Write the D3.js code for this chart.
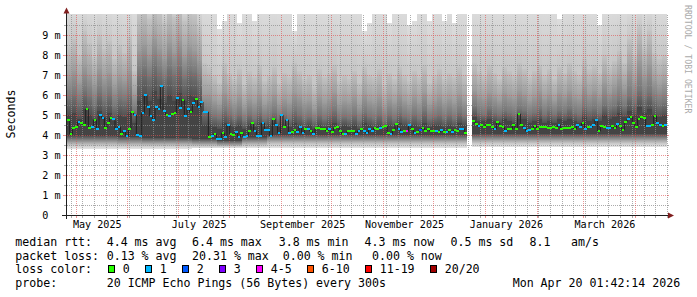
<!DOCTYPE html>
<html>
<head>
<meta charset="utf-8">
<script src="https://cdn.jsdelivr.net/npm/d3@7"></script>
<style>
  body { margin: 0; background: #fff; }
  svg text { font-family: "DejaVu Sans Mono", monospace; white-space: pre; }
</style>
</head>
<body>
<svg id="chart" width="697" height="297"></svg>
<script>
// time span of the graph
const t0 = new Date(Date.UTC(2025, 3, 25, 19, 0));
const t1 = new Date(Date.UTC(2026, 3, 20, 1, 42, 14));

// median rtt (ms), 225 steps, null = no data
const median = [
  4.75,4.05,4.35,4.4,4.65,4.6,4.5,5.3,4.35,4.4,
  4.75,4.3,5.0,4.85,4.35,4.6,4.85,4.8,4.3,4.4,
  4.05,4.2,3.95,4.3,5.15,5.0,4.0,3.95,5.1,6.0,
  5.4,4.95,4.75,5.4,5.3,6.45,5.2,5.0,4.95,5.05,
  5.1,5.85,5.35,5.75,4.95,5.3,5.15,5.6,5.8,5.4,
  5.65,5.15,5.15,3.9,3.95,4.05,3.8,
  3.8,4.1,3.9,4.5,4.05,4.0,4.15,3.9,4.1,3.9,
  3.95,4.2,4.6,4.2,3.95,3.95,4.6,4.25,4.25,3.95,
  4.8,4.5,4.1,5.0,4.4,4.75,4.1,4.15,4.25,4.15,
  4.4,4.1,4.3,4.3,4.2,4.05,4.35,4.35,4.3,4.3,
  4.2,4.3,4.15,4.35,4.4,4.2,4.05,4.05,4.2,4.2,
  4.2,4.05,4.2,4.3,4.2,
  4.1,4.3,4.2,4.35,4.3,4.35,4.4,4.45,4.1,4.05,
  4.25,4.55,4.3,4.15,4.2,4.2,4.5,4.3,4.1,4.15,
  4.25,4.35,4.2,4.3,4.2,4.2,4.2,4.15,4.25,4.15,
  4.15,4.25,4.15,4.25,4.2,4.3,4.3,4.1,
  null,null,
  4.7,4.55,4.45,4.5,4.4,4.5,4.5,4.4,4.3,4.65,
  4.45,4.4,4.2,4.3,4.3,4.5,
  4.3,5.05,4.5,4.35,4.2,4.25,4.3,4.45,4.3,4.4,
  4.4,4.4,4.35,4.35,4.4,4.35,4.5,4.3,4.35,4.35,
  4.35,4.4,4.3,4.5,4.4,4.6,4.3,4.4,4.4,4.5,
  4.75,4.2,4.45,4.4,4.35,4.35,4.45,4.35,4.55,4.45,
  4.25,4.65,4.8,4.9,4.6,4.4,4.8,4.9,4.85,4.45,
  4.45,4.5,4.95,4.6,4.5,4.45,4.5
];

// loss class per step (index into lossColors)
const lossCls = [
  0,0,0,0,1,0,0,0,0,1,
  0,1,1,1,0,0,0,1,1,1,
  0,1,1,0,0,1,1,1,1,1,
  1,1,1,1,1,1,1,0,1,0,
  0,1,1,0,1,1,0,1,0,1,
  1,1,1,0,1,0,1,
  1,0,1,1,0,0,1,1,0,1,
  1,0,0,1,1,1,1,1,1,1,
  0,1,1,1,0,1,1,0,0,1,
  1,1,0,1,0,1,0,0,0,0,
  0,1,0,0,0,0,0,1,0,0,
  0,1,1,0,1,
  1,1,1,0,0,1,0,0,0,1,
  0,0,1,1,0,4,1,0,1,0,
  2,0,0,0,0,0,1,0,1,0,
  1,0,1,0,0,1,1,0,
  0,0,
  0,0,1,0,0,0,0,0,1,0,
  0,0,1,0,0,0,
  0,0,0,1,1,1,0,0,0,0,
  0,0,0,0,0,0,1,0,0,0,
  0,0,0,1,1,0,1,0,1,1,
  1,0,0,0,1,1,0,0,1,0,
  0,0,1,0,0,0,0,0,0,1,
  1,0,0,1,1,0,1
];

// smoke: upper ranks of the 20 sorted pings (ms), 120 steps (10.4 = above the top)
const r20 = [
  10.4,10.4,10.4,10.4,10.4,10.4,10.4,10.4,10.4,10.4,
  10.4,10.4,10.4,10.4,10.4,10.4,10.4,10.4,10.4,10.4,
  10.4,10.4,10.4,10.4,10.4,10.4,10.4,10.4,10.4,10.4,
  9.3,9.7,10.4,10.4,9.6,10.4,10.4,9.7,10.4,10.4,
  10.4,10.4,10.4,10.4,10.4,9.2,10.4,10.4,10.4,10.4,
  10.4,10.4,10.4,10.4,10.4,10.4,10.4,10.4,10.4,9.2,
  9.6,10.4,10.4,10.4,9.6,10.4,10.4,10.4,9.5,9.7,
  10.4,10.4,9.7,10.4,10.4,9.7,10.4,9.6,10.4,10.4,
  null,10.4,10.4,10.4,10.4,10.4,10.4,10.4,10.4,10.4,
  10.4,10.4,10.4,10.4,10.4,10.4,10.4,10.4,9.8,10.4,
  10.4,10.4,10.4,10.4,10.4,10.4,9.5,10.4,10.4,10.4,
  10.4,10.4,10.4,10.4,10.4,10.4,10.4,10.4,10.4,10.4
];
const r18 = [
  8.4,8.8,8.0,9.2,8.6,7.9,9.0,8.3,8.7,7.8,
  8.5,8.1,8.9,7.2,10.0,10.3,9.8,10.4,10.1,9.6,
  10.3,9.9,10.4,9.7,10.1,10.0,9.4,7.6,7.4,7.0,
  6.6,7.6,7.1,6.8,7.3,6.5,7.2,6.9,7.5,6.7,
  7.0,7.4,6.6,7.1,6.9,7.6,7.2,6.8,7.0,6.4,
  7.3,6.9,7.1,7.5,6.7,7.0,6.8,7.2,6.6,7.4,
  7.0,6.9,7.3,6.5,7.1,6.8,7.4,7.0,6.7,7.2,
  6.9,7.5,6.6,7.0,7.3,6.8,7.1,6.9,7.4,7.0,
  null,7.6,7.2,7.0,7.5,7.1,6.8,7.4,7.2,7.0,
  7.6,7.3,6.9,7.2,7.5,7.0,7.3,6.8,7.4,7.1,
  7.6,7.2,7.0,7.8,7.3,7.5,7.1,8.0,7.4,7.7,
  8.2,7.6,8.8,8.0,9.4,8.4,9.2,8.1,7.8,8.0
];
const r16 = [
  6.9,7.2,6.6,7.4,7.0,6.5,7.3,6.8,7.1,6.4,
  6.9,6.7,7.2,6.0,8.2,8.5,8.0,8.8,8.3,7.8,
  8.6,8.1,8.7,7.9,8.4,8.2,7.7,6.0,6.0,5.7,
  5.5,6.1,5.8,5.6,5.9,5.4,5.8,5.6,6.0,5.5,
  5.7,6.0,5.5,5.8,5.6,6.1,5.9,5.6,5.7,5.3,
  5.9,5.6,5.8,6.1,5.5,5.7,5.6,5.9,5.4,6.0,
  5.7,5.6,5.9,5.4,5.8,5.6,6.0,5.7,5.5,5.9,
  5.6,6.1,5.5,5.7,5.9,5.6,5.8,5.6,6.0,5.7,
  null,6.2,5.9,5.8,6.1,5.9,5.7,6.1,5.9,5.8,
  6.2,6.0,5.7,5.9,6.2,5.8,6.0,5.7,6.1,5.9,
  6.2,5.9,5.8,6.4,6.0,6.2,5.9,6.6,6.1,6.4,
  6.8,6.3,7.2,6.6,7.7,6.9,7.5,6.7,6.4,6.6
];
const r14 = [
  5.8,6.0,5.6,6.2,5.9,5.5,6.1,5.7,6.0,5.4,
  5.8,5.7,6.0,5.2,7.0,7.3,6.9,7.5,7.1,6.8,
  7.3,7.0,7.4,6.8,7.2,7.1,6.7,5.2,5.1,4.9,
  4.8,5.2,5.0,4.8,5.0,4.7,5.0,4.8,5.1,4.8,
  4.9,5.1,4.8,5.0,4.8,5.2,5.0,4.8,4.9,4.7,
  5.0,4.8,5.0,5.2,4.8,4.9,4.8,5.0,4.7,5.1,
  4.9,4.8,5.0,4.7,5.0,4.8,5.1,4.9,4.8,5.0,
  4.8,5.2,4.8,4.9,5.0,4.8,5.0,4.8,5.1,4.9,
  null,5.4,5.1,5.0,5.3,5.1,5.0,5.2,5.1,5.0,
  5.3,5.2,5.0,5.1,5.3,5.0,5.2,5.0,5.2,5.1,
  5.3,5.1,5.0,5.4,5.2,5.3,5.1,5.5,5.3,5.4,
  5.7,5.4,5.9,5.6,6.2,5.8,6.1,5.7,5.5,5.6
];
const r12 = [
  5.0,5.1,4.8,5.3,5.0,4.8,5.2,4.9,5.1,4.7,
  5.0,4.9,5.1,4.6,5.7,6.0,5.7,6.2,5.8,5.6,
  6.0,5.7,6.1,5.7,6.0,5.9,5.6,4.5,4.5,4.4,
  4.3,4.6,4.5,4.4,4.5,4.3,4.5,4.4,4.6,4.4,
  4.5,4.6,4.4,4.5,4.4,4.6,4.5,4.4,4.5,4.3,
  4.5,4.4,4.5,4.6,4.4,4.5,4.4,4.5,4.3,4.6,
  4.5,4.4,4.5,4.3,4.5,4.4,4.6,4.5,4.4,4.5,
  4.4,4.6,4.4,4.5,4.5,4.4,4.5,4.4,4.6,4.5,
  null,4.9,4.7,4.7,4.8,4.7,4.6,4.8,4.7,4.6,
  4.8,4.8,4.6,4.7,4.8,4.6,4.7,4.6,4.8,4.7,
  4.8,4.7,4.6,4.9,4.7,4.8,4.7,5.0,4.8,4.9,
  5.1,4.9,5.2,5.0,5.4,5.1,5.3,5.0,4.9,5.0
];

// smoke: lower ranks (ms), 24 steps
const r9 = [3.95,3.95,3.9,3.85,3.85,3.8,3.72,3.88,4.0,4.0,4.0,4.0,4.0,4.0,4.0,4.0,4.05,4.05,4.05,4.05,4.05,4.05,4.05,4.05];
const r7 = [3.8,3.8,3.76,3.72,3.72,3.68,3.62,3.76,3.86,3.86,3.86,3.86,3.86,3.86,3.86,3.86,3.9,3.9,3.9,3.9,3.9,3.9,3.9,3.9];
const r5 = [3.65,3.65,3.62,3.6,3.6,3.57,3.52,3.63,3.72,3.72,3.72,3.72,3.72,3.72,3.72,3.72,3.76,3.76,3.76,3.76,3.76,3.76,3.76,3.76];
const r3 = [3.5,3.5,3.48,3.47,3.47,3.46,3.44,3.5,3.57,3.57,3.57,3.57,3.57,3.57,3.57,3.57,3.6,3.6,3.6,3.6,3.6,3.6,3.6,3.6];
const r1 = [3.32,3.32,3.32,3.32,3.32,3.33,3.35,3.36,3.37,3.37,3.37,3.37,3.37,3.37,3.37,3.37,3.42,3.42,3.42,3.42,3.42,3.42,3.42,3.42];

const yTicks = [0, 1, 2, 3, 4, 5, 6, 7, 8, 9];
const lossColors = ['#26ff00', '#00b8ff', '#0059ff', '#7e00ff', '#ff00ff', '#ff5500', '#ff0000', '#a10000'];
const lossLabels = ['0', '1', '2', '3', '4-5', '6-10', '11-19', '20/20'];
const rttStats = ['median rtt:', '4.4 ms avg', '6.4 ms max', '3.8 ms min', '4.3 ms now', '0.5 ms sd', '8.1', 'am/s'];
const lossStats = ['packet loss:', '0.13 % avg', '20.31 % max', '0.00 % min', '0.00 % now'];
const probeText = ['probe:', '20 ICMP Echo Pings (56 Bytes) every 300s', 'Mon Apr 20 01:42:14 2026'];

// ---- layout
const svg = d3.select('#chart');
const x = d3.scaleUtc().domain([t0, t1]).range([67, 667]);
const y = d3.scaleLinear().domain([0, 10]).range([215, 15]);
const span = t1 - t0;
const binStart = (arr, i) => new Date(+t0 + i * span / arr.length);
const at = (arr, t) => arr[Math.min(arr.length - 1, Math.floor((t - t0) / span * arr.length))];

const gridMinor = 'rgba(143,143,143,0.75)';
const gridMajor = 'rgba(222,79,79,0.6)';

const defs = svg.append('defs');
defs.append('clipPath').attr('id', 'plot')
  .append('rect').attr('x', 67).attr('y', 14).attr('width', 600).attr('height', 201);

// smoke segments between neighbouring ranks, shaded like the smokeping grey ramp
const segments = [
  [r20, r18, '#dddddd', '#c6c6c6'],
  [r18, r16, '#c3c3c3', '#9c9c9c'],
  [r16, r14, '#9a9a9a', '#767676'],
  [r14, r12, '#747474', '#505050'],
  [r12, r9, '#444444', '#444444'],
  [r9, r7, '#505050', '#767676'],
  [r7, r5, '#787878', '#9c9c9c'],
  [r5, r3, '#9e9e9e', '#c3c3c3'],
  [r3, r1, '#c6c6c6', '#e2e2e2']
];
segments.forEach(([, , c0, c1], k) => {
  const lg = defs.append('linearGradient').attr('id', 'seg' + k)
    .attr('x1', 0).attr('x2', 0).attr('y1', 0).attr('y2', 1);
  lg.append('stop').attr('offset', 0).attr('stop-color', c0);
  lg.append('stop').attr('offset', 1).attr('stop-color', c1);
});

const smoke = svg.append('g').attr('clip-path', 'url(#plot)').attr('shape-rendering', 'crispEdges');
const nSmoke = r20.length;
const smokeBins = d3.range(nSmoke).map((i) => {
  const a = binStart(r20, i), b = binStart(r20, i + 1);
  return { a, b, mid: new Date((+a + +b) / 2), i };
}).filter((d) => r20[d.i] != null);
segments.forEach(([hiArr, loArr], k) => {
  const rows = smokeBins.map((d) => ({
    a: d.a, b: d.b,
    hi: hiArr.length === nSmoke ? hiArr[d.i] : at(hiArr, d.mid),
    lo: loArr.length === nSmoke ? loArr[d.i] : at(loArr, d.mid)
  })).filter((d) => d.hi > d.lo);
  smoke.append('g').selectAll('rect').data(rows).join('rect')
    .attr('x', (d) => x(d.a))
    .attr('width', (d) => x(d.b) - x(d.a))
    .attr('y', (d) => y(d.hi))
    .attr('height', (d) => y(d.lo) - y(d.hi))
    .attr('fill', `url(#seg${k})`);
});

// grid on top of the smoke
const grid = svg.append('g');
const hMinor = d3.range(0.5, 10, 1);
grid.selectAll('line.hmin').data(hMinor).join('line').attr('class', 'hmin')
  .attr('x1', 67).attr('x2', 667).attr('y1', (d) => y(d) + 0.5).attr('y2', (d) => y(d) + 0.5)
  .attr('stroke', gridMinor).attr('stroke-dasharray', '1,1');
const weeks = d3.utcMonday.range(t0, t1).filter((d) => d.getUTCDate() !== 1);
grid.selectAll('line.vmin').data(weeks).join('line').attr('class', 'vmin')
  .attr('x1', (d) => Math.round(x(d)) + 0.5).attr('x2', (d) => Math.round(x(d)) + 0.5)
  .attr('y1', 15).attr('y2', 215)
  .attr('stroke', gridMinor).attr('stroke-dasharray', '1,1');
grid.selectAll('line.hmaj').data(yTicks.slice(1)).join('line').attr('class', 'hmaj')
  .attr('x1', 67).attr('x2', 667).attr('y1', (d) => y(d) + 0.5).attr('y2', (d) => y(d) + 0.5)
  .attr('stroke', gridMajor).attr('stroke-dasharray', '1,1');
const months = d3.utcMonth.range(t0, t1);
grid.selectAll('line.vmaj').data(months).join('line').attr('class', 'vmaj')
  .attr('x1', (d) => Math.round(x(d)) + 0.5).attr('x2', (d) => Math.round(x(d)) + 0.5)
  .attr('y1', 15).attr('y2', 215)
  .attr('stroke', gridMajor).attr('stroke-dasharray', '1,1');

// ticks outside the plot
const ticks = svg.append('g').attr('shape-rendering', 'crispEdges');
hMinor.forEach((v) => {
  ticks.append('line').attr('x1', 64).attr('x2', 66).attr('y1', y(v) + 0.5).attr('y2', y(v) + 0.5).attr('stroke', gridMinor);
  ticks.append('line').attr('x1', 667).attr('x2', 669).attr('y1', y(v) + 0.5).attr('y2', y(v) + 0.5).attr('stroke', gridMinor);
});
yTicks.forEach((v) => {
  ticks.append('line').attr('x1', 63).attr('x2', 66).attr('y1', y(v) + 0.5).attr('y2', y(v) + 0.5).attr('stroke', gridMajor);
  ticks.append('line').attr('x1', 667).attr('x2', 669).attr('y1', y(v) + 0.5).attr('y2', y(v) + 0.5).attr('stroke', gridMajor);
});
weeks.forEach((d) => {
  const px = Math.round(x(d)) + 0.5;
  ticks.append('line').attr('x1', px).attr('x2', px).attr('y1', 215).attr('y2', 218).attr('stroke', gridMinor);
});
months.forEach((d) => {
  const px = Math.round(x(d)) + 0.5;
  ticks.append('line').attr('x1', px).attr('x2', px).attr('y1', 215).attr('y2', 218).attr('stroke', gridMajor);
});

// median: dark step line and loss coloured boxes
const medRows = median.map((v, i) => ({ v, c: lossCls[i], a: binStart(median, i), b: binStart(median, i + 1) }));
const stepLine = d3.line()
  .defined((d) => d.v != null)
  .x((d) => x(d.a))
  .y((d) => y(d.v))
  .curve(d3.curveStepAfter);
svg.append('path').datum(medRows).attr('d', stepLine)
  .attr('fill', 'none').attr('stroke', '#202020').attr('stroke-width', 1);
svg.append('g').attr('shape-rendering', 'crispEdges')
  .selectAll('rect').data(medRows.filter((d) => d.v != null)).join('rect')
  .attr('x', (d) => x(d.a))
  .attr('width', (d) => x(d.b) - x(d.a))
  .attr('y', (d) => y(d.v) - 1)
  .attr('height', 2)
  .attr('fill', (d) => lossColors[d.c]);

// axes and arrows
const axisCol = '#1f1f1f', arrowCol = '#801f1f';
svg.append('line').attr('x1', 62).attr('x2', 670).attr('y1', 215.5).attr('y2', 215.5).attr('stroke', axisCol);
svg.append('line').attr('x1', 66.5).attr('x2', 66.5).attr('y1', 219).attr('y2', 11).attr('stroke', axisCol);
svg.append('path').attr('d', 'M63.5,13.5L69.5,13.5L66.5,7.5Z').attr('fill', arrowCol);
svg.append('path').attr('d', 'M668,212.5L668,218.5L674,215.5Z').attr('fill', arrowCol);

// y labels
svg.append('g').selectAll('text').data(yTicks).join('text')
  .attr('x', (d) => d === 0 ? 48.3 : 60.6)
  .attr('y', (d) => y(d) + 3.8)
  .attr('text-anchor', 'end')
  .attr('font-size', '10.15px')
  .attr('fill', '#000')
  .text((d) => d === 0 ? '0' : d + ' m');

// x labels, every second month
const fmt = d3.utcFormat('%B %Y');
const labelMonths = months.filter((d) => d.getUTCMonth() % 2 === 0);
svg.append('g').selectAll('text').data(labelMonths).join('text')
  .attr('x', (d) => x(d3.utcHour.offset(d, 310)))
  .attr('y', 228.3)
  .attr('text-anchor', 'middle')
  .attr('font-size', '10.15px')
  .attr('fill', '#000')
  .text((d) => fmt(d));

// unit label and watermark
svg.append('text').attr('transform', 'translate(15,114) rotate(-90)')
  .attr('text-anchor', 'middle').attr('font-size', '11.6px').attr('fill', '#000').text('Seconds');
svg.append('text').attr('transform', 'translate(684.5,5) rotate(90)')
  .attr('font-size', '8.2px').attr('fill', '#aaaaaa').text('RRDTOOL / TOBI OETIKER');

// legend
const leg = svg.append('g').attr('font-size', '11.6px').attr('fill', '#000');
const rttX = [15.3, 106.7, 192, 278.7, 364.5, 450.5, 529.5, 571];
rttStats.forEach((s, i) => leg.append('text').attr('x', rttX[i]).attr('y', 245.6).text(s));
const lossX = [15.3, 106.7, 192, 282.7, 372];
lossStats.forEach((s, i) => leg.append('text').attr('x', lossX[i]).attr('y', 259.5).text(s));
leg.append('text').attr('x', 15.3).attr('y', 273.4).text('loss color:');
const boxX = [108.5, 145.5, 182.5, 219.5, 256.5, 307.5, 365.5, 430.5];
lossLabels.forEach((s, i) => {
  leg.append('rect').attr('x', boxX[i]).attr('y', 265.5).attr('width', 6).attr('height', 7)
    .attr('fill', lossColors[i]).attr('stroke', '#000').attr('shape-rendering', 'crispEdges');
  leg.append('text').attr('x', boxX[i] + 14.2).attr('y', 273.4).text(s);
});
const probeX = [15.3, 106.7, 512.7];
probeText.forEach((s, i) => leg.append('text').attr('x', probeX[i]).attr('y', 287.4).text(s));
</script>
</body>
</html>
